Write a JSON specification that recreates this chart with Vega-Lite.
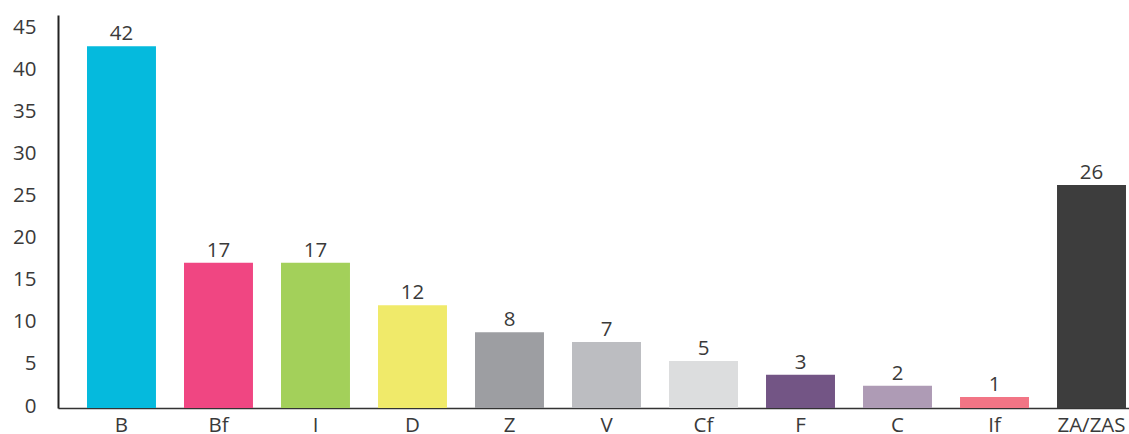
{
  "$schema": "https://vega.github.io/schema/vega-lite/v6.json",
  "autosize": "none",
  "width": 1071,
  "height": 393,
  "padding": {"left": 58, "top": 15, "right": 0, "bottom": 26},
  "background": "white",
  "config": {
    "view": {"stroke": null},
    "font": "Open Sans"
  },
  "data": {
    "values": [
      {"cat": "B", "value": 43.0, "label": "42"},
      {"cat": "Bf", "value": 17.25, "label": "17"},
      {"cat": "I", "value": 17.25, "label": "17"},
      {"cat": "D", "value": 12.2, "label": "12"},
      {"cat": "Z", "value": 9.0, "label": "8"},
      {"cat": "V", "value": 7.85, "label": "7"},
      {"cat": "Cf", "value": 5.58, "label": "5"},
      {"cat": "F", "value": 3.95, "label": "3"},
      {"cat": "C", "value": 2.65, "label": "2"},
      {"cat": "If", "value": 1.31, "label": "1"},
      {"cat": "ZA/ZAS", "value": 26.5, "label": "26"}
    ]
  },
  "encoding": {
    "x": {
      "field": "cat",
      "type": "nominal",
      "sort": null,
      "scale": {"paddingInner": 0.289, "paddingOuter": 0.165, "align": 0.906},
      "axis": {
        "title": null,
        "labelAngle": 0,
        "ticks": false,
        "domainColor": "#333333",
        "domainWidth": 1.5,
        "labelFontSize": 20.5,
        "labelColor": "#3a3a3a",
        "labelPadding": 7,
        "labelFont": "Open Sans"
      }
    },
    "y": {
      "field": "value",
      "type": "quantitative",
      "scale": {"domain": [0, 46.7], "nice": false},
      "axis": {
        "title": null,
        "values": [0, 5, 10, 15, 20, 25, 30, 35, 40, 45],
        "grid": false,
        "ticks": false,
        "domainColor": "#222222",
        "domainWidth": 2,
        "labelFontSize": 20.5,
        "labelColor": "#3a3a3a",
        "labelPadding": 22,
        "labelOffset": -2,
        "labelFont": "Open Sans"
      }
    }
  },
  "layer": [
    {
      "mark": {"type": "bar"},
      "encoding": {
        "color": {
          "field": "cat",
          "type": "nominal",
          "legend": null,
          "scale": {
            "domain": ["B", "Bf", "I", "D", "Z", "V", "Cf", "F", "C", "If", "ZA/ZAS"],
            "range": ["#05BADD", "#F04682", "#A3D05A", "#F0EA6A", "#9D9EA2", "#BCBDC1", "#DCDDDE", "#735585", "#AE9BB5", "#F27585", "#3D3D3D"]
          }
        }
      }
    },
    {
      "mark": {"type": "text", "baseline": "alphabetic", "dy": -6, "fontSize": 20.5, "color": "#3a3a3a", "font": "Open Sans"},
      "encoding": {
        "text": {"field": "label"}
      }
    }
  ]
}
